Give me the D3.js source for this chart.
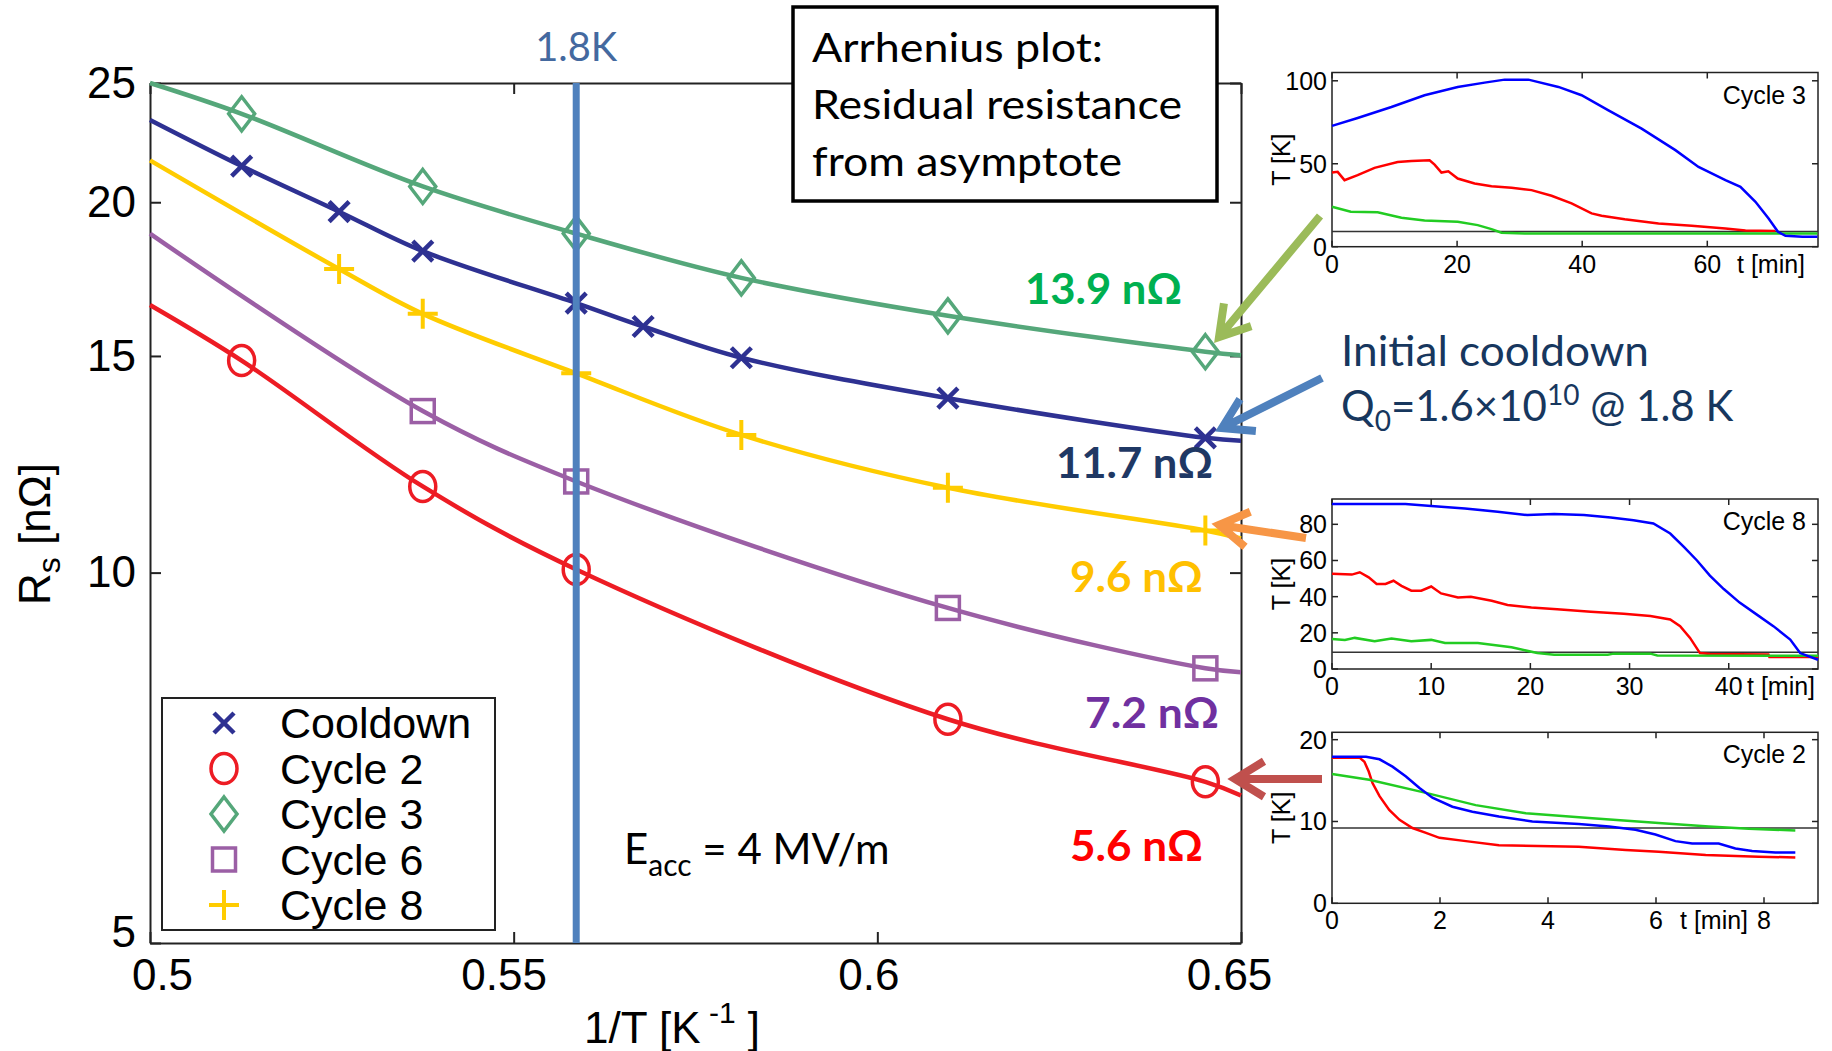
<!DOCTYPE html>
<html><head><meta charset="utf-8">
<script src="https://cdn.jsdelivr.net/npm/d3@7"></script>
<style>
body{margin:0;background:#fff;}
svg{display:block;}
.ax text{font-family:"Liberation Sans",Arial,sans-serif;}
</style></head><body>
<svg id="fig" width="1832" height="1051"></svg>
<script>
// main Arrhenius plot
var seriesNames   = ["Cooldown","Cycle 2","Cycle 3","Cycle 6","Cycle 8"];
var seriesColors  = ["#2e3192","#ed1c24","#55a77a","#9b5fa5","#ffcc00"];
var seriesSymbols = ["cross","circle","diamond","square","plus"];

var cooldownX = [0.5126,0.5260,0.5375,0.5586,0.5678,0.5813,0.6097,0.6451];
var cooldownRs = [21.4,19.65,18.25,16.56,15.85,14.95,13.86,12.87];
var cycle2X = [0.5126,0.5375,0.5586,0.6097,0.6451];
var cycle2Rs = [14.87,11.75,10.06,7.60,6.76];
var cycle3X = [0.5126,0.5375,0.5586,0.5813,0.6097,0.6451];
var cycle3Rs = [23.6,20.6,18.86,17.36,16.17,15.12];
var cycle6X = [0.5375,0.5586,0.6097,0.6451];
var cycle6Rs = [13.53,11.86,9.36,8.36];
var cycle8X = [0.5260,0.5375,0.5586,0.5813,0.6097,0.6451];
var cycle8Rs = [17.65,16.23,14.52,12.94,11.72,10.82];

// fit curve values at the plot edges (1/T = 0.50 and 0.65)
var fitStart = [23.33,16.5,25.0,18.86,21.63];
var fitEnd   = [12.8,6.59,15.02,8.30,10.66];

var residualText   = ["11.7 nΩ","5.6 nΩ","13.9 nΩ","7.2 nΩ","9.6 nΩ"];
var residualColors = ["#1f3864","#ff0000","#00b050","#7030a0","#ffc000"];

var xTicks = [0.5,0.55,0.6,0.65];
var yTicks = [5,10,15,20,25];
var invT18 = 0.5586;

// inset cooldown traces [t min, T K]
var c3Blue = [[0,72.8],[4.1,77.6],[9.5,84.2],[14.8,91.3],[20.1,96.3],[24.4,98.9],[27.6,100.7],[31.4,100.7],[36.2,96.3],[39.9,91.3],[44.2,82.2],[49.5,71.2],[54.9,58.2],[58.6,48.1],[62.9,40.1],[65.3,36.1],[67.7,27.1],[69.8,17.0],[71.3,9.0],[72.5,6.6],[75.2,6.0],[77.6,6.0]];
var c3Red = [[0,44.7],[0.9,45.1],[2.0,40.1],[4.1,43.1],[6.8,47.5],[10.5,51.1],[12.7,51.7],[15.6,52.1],[16.4,49.5],[17.5,44.7],[18.6,45.5],[20.1,41.1],[22.8,38.1],[25.5,36.5],[28.7,35.5],[31.9,34.1],[35.1,30.7],[38.3,26.1],[41.5,20.1],[43.1,18.7],[46.8,16.6],[52.2,14.0],[57.5,12.6],[62.9,11.0],[66.1,9.8],[70.9,9.4]];
var c3Green = [[0,24.1],[3.0,21.1],[7.3,20.7],[11.1,17.4],[14.8,15.8],[20.1,15.0],[23.3,13.0],[25.5,10.6],[27.1,8.4],[30.8,8.0],[77.6,8.0]];

var c8Blue = [[0,91.3],[2.7,91.3],[7.4,91.3],[10.0,90.1],[13.4,88.8],[16.7,87.0],[19.7,85.1],[22.4,85.7],[25.4,85.1],[28.1,83.8],[30.4,82.3],[32.4,80.5],[34.1,74.9],[35.5,67.4],[36.8,60.0],[38.1,51.6],[39.5,44.2],[41.1,36.7],[42.8,30.2],[44.5,23.7],[46.2,16.3],[47.2,8.8],[49,5.1]];
var c8Red = [[0,52.6],[2.0,52.2],[2.8,53.5],[3.7,50.7],[4.5,47.0],[5.4,47.0],[6.2,48.8],[7.0,46.0],[8.0,43.3],[9.0,43.3],[10.0,45.6],[11.0,41.8],[12.7,39.5],[14.0,39.9],[16.1,37.7],[17.7,35.4],[20.1,34.0],[22.7,33.0],[26.1,31.7],[29.4,30.6],[32.1,29.3],[34.1,27.4],[35.1,23.7],[36.1,17.2],[37.1,8.8],[38.1,8.3],[44,8.0],[44.1,6.6],[49,6.6]];
var c8Green = [[0,16.6],[1.3,16.1],[2.3,17.2],[4.3,15.3],[6.0,16.8],[8.0,15.3],[10.0,16.1],[11.4,14.4],[14.7,14.4],[18.1,12.0],[20.7,8.8],[22.4,7.9],[27.8,7.9],[28.4,8.5],[32.1,8.5],[32.8,7.5],[49,7.3]];

var c2Blue = [[0,17.9],[0.63,17.9],[0.88,17.6],[1.12,16.7],[1.37,15.5],[1.62,14.1],[1.86,12.9],[2.23,11.8],[2.60,11.2],[3.09,10.6],[3.71,10.0],[4.57,9.7],[5.13,9.4],[5.62,9.0],[5.99,8.4],[6.36,7.6],[6.67,7.3],[7.16,7.3],[7.47,6.7],[7.78,6.4],[8.21,6.2],[8.58,6.2]];
var c2Red = [[0,17.8],[0.51,17.8],[0.60,17.3],[0.68,16.1],[0.75,14.7],[0.88,13.1],[1.06,11.4],[1.25,10.2],[1.49,9.2],[1.74,8.6],[1.99,8.0],[2.48,7.6],[3.09,7.1],[4.57,6.9],[5.44,6.5],[6.05,6.3],[6.92,5.9],[7.90,5.7],[8.58,5.6]];
var c2Green = [[0,15.8],[0.69,15.1],[1.74,13.5],[2.66,12.0],[3.59,11.0],[4.82,10.4],[6.05,9.8],[6.98,9.4],[7.72,9.1],[8.58,8.9]];

var tcNb = 9.2;

var svg = d3.select("#fig");
var sans = "'Liberation Sans',Arial,sans-serif";
var cal = "Lato,'Open Sans',sans-serif";

var L = 150, R = 1241, T = 83, B = 943;
var x = d3.scaleLinear().domain([0.5,0.65]).range([L,R]);
var y = d3.scaleLog().domain([5,25]).range([B,T]);

var seriesX = [cooldownX,cycle2X,cycle3X,cycle6X,cycle8X];
var seriesY = [cooldownRs,cycle2Rs,cycle3Rs,cycle6Rs,cycle8Rs];

// axes, ticks inward
var gx = svg.append("g").attr("class","ax").attr("transform","translate(0,"+B+")")
    .call(d3.axisBottom(x).tickValues(xTicks).tickSizeInner(-11).tickSizeOuter(0).tickPadding(16)
        .tickFormat(function(d){return d3.format("")(+d.toFixed(2));}));
svg.append("g").attr("class","ax").attr("transform","translate(0,"+T+")")
    .call(d3.axisTop(x).tickValues(xTicks).tickSizeInner(-11).tickSizeOuter(0).tickFormat(""));
var gy = svg.append("g").attr("class","ax").attr("transform","translate("+L+",0)")
    .call(d3.axisLeft(y).tickValues(yTicks).tickSizeInner(-11).tickSizeOuter(0).tickPadding(14)
        .tickFormat(d3.format("d")));
svg.append("g").attr("class","ax").attr("transform","translate("+R+",0)")
    .call(d3.axisRight(y).tickValues(yTicks).tickSizeInner(-11).tickSizeOuter(0).tickFormat(""));
svg.selectAll(".ax path, .ax line").attr("stroke","#222").attr("stroke-width",2);
svg.selectAll(".ax text").attr("font-size",44).attr("fill","#000");
var xLabShift = [12,-10,-9,-12];
gx.selectAll("text").attr("dy","0.71em").attr("dx",function(d,i){return xLabShift[i];});
gy.selectAll("text").filter(function(d){return d==5;}).attr("dy","0.08em");

// fit curves
var line = d3.line().x(function(d){return x(d[0]);}).y(function(d){return y(d[1]);})
    .curve(d3.curveCatmullRom.alpha(0.5));
var curves = svg.append("g");
seriesNames.forEach(function(n,i){
    var pts = [[0.5,fitStart[i]]];
    seriesX[i].forEach(function(v,j){ pts.push([v,seriesY[i][j]]); });
    pts.push([0.65,fitEnd[i]]);
    curves.append("path").attr("d",line(pts)).attr("fill","none")
        .attr("stroke",seriesColors[i]).attr("stroke-width",4.5);
});

function marker(g,sym,cx,cy,col){
    var m = g.append("g").attr("transform","translate("+cx+","+cy+")")
        .attr("stroke",col).attr("stroke-width",3.5).attr("fill","none");
    if(sym=="cross"){ m.append("path").attr("d","M-10,-10L10,10M-10,10L10,-10").attr("stroke-width",4.5); }
    if(sym=="plus"){ m.append("path").attr("d","M-15,0L15,0M0,-15L0,15").attr("stroke-width",4); }
    if(sym=="circle"){ m.append("ellipse").attr("rx",13).attr("ry",15); }
    if(sym=="diamond"){ m.append("path").attr("d","M0,-17L13,0L0,17L-13,0Z"); }
    if(sym=="square"){ m.append("rect").attr("x",-11.5).attr("y",-11.5).attr("width",23).attr("height",23); }
}
var marks = svg.append("g");
seriesNames.forEach(function(n,i){
    seriesX[i].forEach(function(v,j){
        marker(marks,seriesSymbols[i],x(v),y(seriesY[i][j]),seriesColors[i]);
    });
});

// 1.8 K line
svg.append("line").attr("x1",x(invT18)).attr("x2",x(invT18)).attr("y1",T).attr("y2",B)
    .attr("stroke","#4f81bd").attr("stroke-width",7);
svg.append("text").attr("x",x(invT18)).attr("y",61).attr("text-anchor","middle")
    .attr("font-family",cal).attr("font-size",40).attr("fill","#44699f")
    .attr("textLength",82).attr("lengthAdjust","spacingAndGlyphs").text("1.8K");

// axis titles
var yl = svg.append("text").attr("transform","translate(50,534) rotate(-90)").attr("text-anchor","middle")
    .attr("font-family",sans).attr("font-size",44);
yl.append("tspan").text("R");
yl.append("tspan").attr("font-size",32).attr("dy",10).text("s");
yl.append("tspan").attr("dy",-10).text(" [nΩ]");
var xl = svg.append("text").attr("x",584).attr("y",1043).attr("font-family",sans).attr("font-size",44);
xl.append("tspan").text("1/T [K");
xl.append("tspan").attr("font-size",30).attr("dy",-20).text(" -1");
xl.append("tspan").attr("dy",20).text(" ]");

// residual labels
var resX = [1056,1070,1025,1085,1070], resY = [478,861,304,728,592];
var resW = [157,133,157,134,133];
residualText.forEach(function(t,i){
    svg.append("text").attr("x",resX[i]).attr("y",resY[i]).attr("font-family",cal).attr("font-weight","bold")
        .attr("font-size",42).attr("fill",residualColors[i])
        .attr("textLength",resW[i]).attr("lengthAdjust","spacingAndGlyphs").text(t);
});

// E_acc
var ea = svg.append("text").attr("x",624).attr("y",864).attr("font-family",cal).attr("font-size",42);
ea.append("tspan").text("E");
ea.append("tspan").attr("font-size",30).attr("dy",12).text("acc");
ea.append("tspan").attr("dy",-12).text(" = 4 MV/m");

// legend
var lg = svg.append("g");
lg.append("rect").attr("x",162).attr("y",698).attr("width",333).attr("height",232)
    .attr("fill","#fff").attr("stroke","#222").attr("stroke-width",2);
seriesNames.forEach(function(n,i){
    var ly = 723 + i*45.5;
    marker(lg,seriesSymbols[i],224,ly,seriesColors[i]);
    lg.append("text").attr("x",280).attr("y",ly).attr("dy","0.36em").attr("font-family",sans)
        .attr("font-size",43).text(n);
});

// title box
svg.append("rect").attr("x",793).attr("y",7).attr("width",424).attr("height",194)
    .attr("fill","#fff").attr("stroke","#000").attr("stroke-width",3.5);
var boxLines = ["Arrhenius plot:","Residual resistance","from asymptote"];
var boxW = [291,370,310];
boxLines.forEach(function(t,i){
    svg.append("text").attr("x",812).attr("y",62+i*57).attr("font-family",cal).attr("font-size",40)
        .attr("textLength",boxW[i]).attr("lengthAdjust","spacingAndGlyphs").text(t);
});

// initial cooldown note
svg.append("text").attr("x",1341).attr("y",366).attr("font-family",cal).attr("font-size",42).attr("fill","#17375e")
    .attr("textLength",308).attr("lengthAdjust","spacingAndGlyphs").text("Initial cooldown");
var q = svg.append("text").attr("x",1341).attr("y",421).attr("font-family",cal).attr("font-size",42).attr("fill","#17375e");
q.append("tspan").text("Q");
q.append("tspan").attr("font-size",28).attr("dy",10).text("0");
q.append("tspan").attr("dy",-10).text("=1.6×10");
q.append("tspan").attr("font-size",28).attr("dy",-16).text("10");
q.append("tspan").attr("dy",16).text(" @ 1.8 K");

// arrows
function arrow(x1,y1,x2,y2,col){
    var a = Math.atan2(y2-y1,x2-x1), h = 34, s = 0.55;
    var p = "M"+x1+","+y1+"L"+x2+","+y2+
        "M"+(x2-h*Math.cos(a-s))+","+(y2-h*Math.sin(a-s))+"L"+x2+","+y2+
        "L"+(x2-h*Math.cos(a+s))+","+(y2-h*Math.sin(a+s));
    svg.append("path").attr("d",p).attr("fill","none").attr("stroke",col).attr("stroke-width",8)
        .attr("stroke-linejoin","miter");
}
arrow(1320,216,1219,337,"#9bbb59");
arrow(1322,378,1222,428,"#4f81bd");
arrow(1306,538,1219,525,"#f79646");
arrow(1322,779,1235,779,"#c0504d");

// insets
function inset(o){
    var ix = d3.scaleLinear().domain([0,o.tMax]).range([1332,1818]);
    var iy = d3.scaleLinear().domain([0,o.TMax]).range([o.bottom,o.top]);
    var g = svg.append("g");
    g.append("rect").attr("x",1332).attr("y",o.top).attr("width",486).attr("height",o.bottom-o.top)
        .attr("fill","#fff").attr("stroke","#222").attr("stroke-width",1.5);
    var ticks = g.append("g").attr("stroke","#222").attr("stroke-width",1.5);
    o.xt.forEach(function(t){
        ticks.append("line").attr("x1",ix(t)).attr("x2",ix(t)).attr("y1",o.bottom).attr("y2",o.bottom-6);
        ticks.append("line").attr("x1",ix(t)).attr("x2",ix(t)).attr("y1",o.top).attr("y2",o.top+6);
        g.append("text").attr("x",ix(t)).attr("y",o.bottom+26).attr("text-anchor","middle")
            .attr("font-family",sans).attr("font-size",25).text(t);
    });
    o.yt.forEach(function(t){
        ticks.append("line").attr("x1",1332).attr("x2",1338).attr("y1",iy(t)).attr("y2",iy(t));
        ticks.append("line").attr("x1",1818).attr("x2",1812).attr("y1",iy(t)).attr("y2",iy(t));
        g.append("text").attr("x",1327).attr("y",iy(t)).attr("dy","0.36em").attr("text-anchor","end")
            .attr("font-family",sans).attr("font-size",25).text(t);
    });
    g.append("text").attr("x",o.tLabelX).attr("y",o.bottom+26).attr("font-family",sans).attr("font-size",25).text("t [min]");
    g.append("text").attr("transform","translate(1290,"+((o.top+o.bottom)/2)+") rotate(-90)")
        .attr("text-anchor","middle").attr("font-family",sans).attr("font-size",25).text("T [K]");
    g.append("text").attr("x",1806).attr("y",o.top+31).attr("text-anchor","end")
        .attr("font-family",sans).attr("font-size",25).text(o.name);
    g.append("line").attr("x1",1332).attr("x2",1818).attr("y1",iy(tcNb)).attr("y2",iy(tcNb))
        .attr("stroke","#333").attr("stroke-width",1.5);
    var ln = d3.line().x(function(d){return ix(d[0]);}).y(function(d){return iy(d[1]);});
    [[o.red,"#ff0000"],[o.green,"#22cc22"],[o.blue,"#0000ff"]].forEach(function(s){
        g.append("path").attr("d",ln(s[0])).attr("fill","none").attr("stroke",s[1]).attr("stroke-width",2.5);
    });
}
inset({name:"Cycle 3",top:72.5,bottom:246.7,tMax:77.7,TMax:105,xt:[0,20,40,60],yt:[0,50,100],
    tLabelX:1737,blue:c3Blue,red:c3Red,green:c3Green});
inset({name:"Cycle 8",top:499,bottom:669,tMax:49,TMax:94,xt:[0,10,20,30,40],yt:[0,20,40,60,80],
    tLabelX:1747,blue:c8Blue,red:c8Red,green:c8Green});
inset({name:"Cycle 2",top:732.3,bottom:903.3,tMax:9,TMax:20.9,xt:[0,2,4,6,8],yt:[0,10,20],
    tLabelX:1680,blue:c2Blue,red:c2Red,green:c2Green});
</script>
</body></html>
